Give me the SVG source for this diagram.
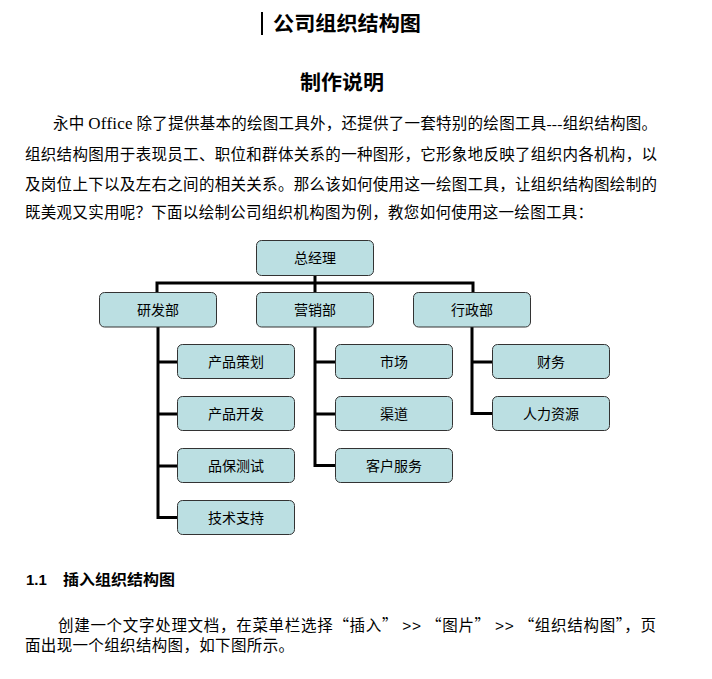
<svg xmlns="http://www.w3.org/2000/svg" width="712" height="679" viewBox="0 0 712 679">
<style>
.cjk{font-family:"Noto Sans CJK SC","Liberation Sans",sans-serif;fill:#000}
.p{font-size:15.5px}
.box{fill:#BBDFE2;stroke:#333;stroke-width:1}
.lbl{font-family:"Noto Sans CJK SC","Liberation Sans",sans-serif;font-size:14px;fill:#000;text-anchor:middle}
.conn{fill:none;stroke:#000;stroke-width:3;stroke-linejoin:miter}
</style>
<rect width="712" height="679" fill="#fff"/>
<rect x="261" y="12" width="2" height="23" fill="#000"/>
<text class="cjk" x="273" y="31" font-size="20.5" font-weight="bold" textLength="148" lengthAdjust="spacingAndGlyphs">公司组织结构图</text>
<text class="cjk" x="300" y="90" font-size="20.5" font-weight="bold" textLength="84" lengthAdjust="spacingAndGlyphs">制作说明</text>
<text class="cjk p" x="53" y="128.5" textLength="604" lengthAdjust="spacing">永中 <tspan font-family="Liberation Serif" font-size="17">Office</tspan> 除了提供基本的绘图工具外，还提供了一套特别的绘图工具<tspan font-family="Liberation Serif">---</tspan>组织结构图。</text>
<text class="cjk p" x="25" y="160" textLength="632" lengthAdjust="spacing">组织结构图用于表现员工、职位和群体关系的一种图形，它形象地反映了组织内各机构，以</text>
<text class="cjk p" x="25" y="189.5" textLength="632" lengthAdjust="spacing">及岗位上下以及左右之间的相关关系。那么该如何使用这一绘图工具，让组织结构图绘制的</text>
<text class="cjk p" x="25" y="218" textLength="568" lengthAdjust="spacing">既美观又实用呢？下面以绘制公司组织机构图为例，教您如何使用这一绘图工具：</text>
<g id="connectors">
<path class="conn" d="M315 275V293M157 293V283H473V293"/>
<path class="conn" d="M158 327V519M158 362H178M158 414H178M158 466H178M158 517.5H178"/>
<path class="conn" d="M315 327V467M315 362H336M315 414H336M315 465.5H336"/>
<path class="conn" d="M472 327V415M472 362H493M472 413.5H493"/>
</g>
<g id="n-zjl"><rect class="box" x="256.5" y="240.5" width="117" height="35" rx="5"/><text class="lbl" x="315" y="263">总经理</text></g>
<g id="n-yfb"><rect class="box" x="99.5" y="292.5" width="117" height="34.5" rx="5"/><text class="lbl" x="158" y="315">研发部</text></g>
<g id="n-yxb"><rect class="box" x="256.5" y="292.5" width="117" height="34.5" rx="5"/><text class="lbl" x="315" y="315">营销部</text></g>
<g id="n-xzb"><rect class="box" x="413.5" y="292.5" width="117" height="34.5" rx="5"/><text class="lbl" x="472" y="315">行政部</text></g>
<g id="n-cpch"><rect class="box" x="177.5" y="344.5" width="117" height="34" rx="5"/><text class="lbl" x="236" y="366.5">产品策划</text></g>
<g id="n-cpkf"><rect class="box" x="177.5" y="396.5" width="117" height="34" rx="5"/><text class="lbl" x="236" y="418.5">产品开发</text></g>
<g id="n-pbcs"><rect class="box" x="177.5" y="448.5" width="117" height="34" rx="5"/><text class="lbl" x="236" y="470.5">品保测试</text></g>
<g id="n-jszc"><rect class="box" x="177.5" y="500.5" width="117" height="34" rx="5"/><text class="lbl" x="236" y="522.5">技术支持</text></g>
<g id="n-sc"><rect class="box" x="335.5" y="344.5" width="117" height="34" rx="5"/><text class="lbl" x="394" y="366.5">市场</text></g>
<g id="n-qd"><rect class="box" x="335.5" y="396.5" width="117" height="34" rx="5"/><text class="lbl" x="394" y="418.5">渠道</text></g>
<g id="n-khfw"><rect class="box" x="335.5" y="448.5" width="117" height="34" rx="5"/><text class="lbl" x="394" y="470.5">客户服务</text></g>
<g id="n-cw"><rect class="box" x="492.5" y="344.5" width="117" height="34" rx="5"/><text class="lbl" x="551" y="366.5">财务</text></g>
<g id="n-rlzy"><rect class="box" x="492.5" y="396.5" width="117" height="34" rx="5"/><text class="lbl" x="551" y="418.5">人力资源</text></g>
<text x="26" y="584.5" font-family="Liberation Sans,sans-serif" font-size="15" font-weight="bold">1.1</text>
<text class="cjk" x="63" y="584.5" font-size="15" font-weight="bold" textLength="112" lengthAdjust="spacingAndGlyphs">插入组织结构图</text>
<text class="cjk p" x="58" y="630.5" textLength="598" lengthAdjust="spacing">创建一个文字处理文档，在菜单栏选择“插入” <tspan font-family="Liberation Sans">&gt;&gt;</tspan> “图片” <tspan font-family="Liberation Sans">&gt;&gt;</tspan> “组织结构图”，页</text>
<text class="cjk p" x="25" y="651" textLength="269" lengthAdjust="spacing">面出现一个组织结构图，如下图所示。</text>
</svg>
